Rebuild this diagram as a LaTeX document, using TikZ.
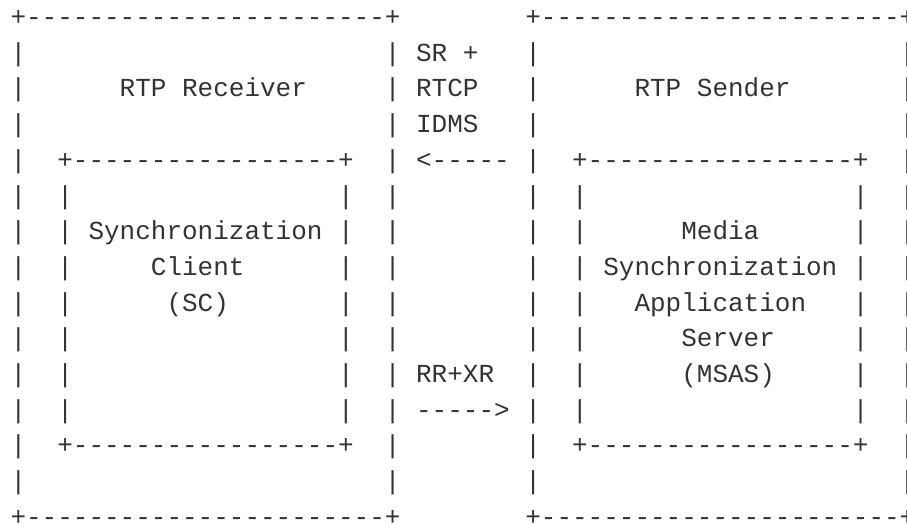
\documentclass[tikz,border=0pt]{standalone}
\usepackage{fontspec}
\newfontfamily\ascfont{Liberation Mono}
\definecolor{ink}{HTML}{333333}
\tikzset{asc/.style={anchor=base west, inner sep=0pt, outer sep=0pt,
  font=\ascfont\fontsize{26pt}{26pt}\selectfont, text=ink}}
\begin{document}
\begin{tikzpicture}[x=15.6pt, y=-35.7pt]
\useasboundingbox (0pt,0pt) rectangle (907pt,-524pt);
\begin{scope}[shift={(10.5pt,-25.5pt)}]
  % outer boxes: top and bottom borders
  \node[asc] (rxtop) at (0,0)  {+-----------------------+};
  \node[asc] (txtop) at (33,0) {+-----------------------+};
  \node[asc] (rxbot) at (0,14)  {+-----------------------+};
  \node[asc] (txbot) at (33,14) {+-----------------------+};
  % outer boxes: sides
  \foreach \r in {1,...,13} {
    \node[asc] (rxl\r) at (0,\r)  {|};
    \node[asc] (rxr\r) at (24,\r) {|};
    \node[asc] (txl\r) at (33,\r) {|};
    \node[asc] (txr\r) at (57,\r) {|};
  }
  % inner boxes: top and bottom borders
  \node[asc] (sctop) at (3,4)   {+-----------------+};
  \node[asc] (mstop) at (36,4)  {+-----------------+};
  \node[asc] (scbot) at (3,12)  {+-----------------+};
  \node[asc] (msbot) at (36,12) {+-----------------+};
  % inner boxes: sides
  \foreach \r in {5,...,11} {
    \node[asc] (scl\r) at (3,\r)  {|};
    \node[asc] (scr\r) at (21,\r) {|};
    \node[asc] (msl\r) at (36,\r) {|};
    \node[asc] (msr\r) at (54,\r) {|};
  }
  % labels
  \node[asc] (rxlabel) at (7,2)  {RTP Receiver};
  \node[asc] (txlabel) at (40,2) {RTP Sender};
  \node[asc] (sc1) at (5,6)  {Synchronization};
  \node[asc] (sc2) at (9,7)  {Client};
  \node[asc] (sc3) at (10,8) {(SC)};
  \node[asc] (ms1) at (43,6)  {Media};
  \node[asc] (ms2) at (38,7)  {Synchronization};
  \node[asc] (ms3) at (40,8)  {Application};
  \node[asc] (ms4) at (43,9)  {Server};
  \node[asc] (ms5) at (43,10) {(MSAS)};
  % messages between the boxes
  \node[asc] (m1) at (26,1)  {SR +};
  \node[asc] (m2) at (26,2)  {RTCP};
  \node[asc] (m3) at (26,3)  {IDMS};
  \node[asc] (a1) at (26,4)  {<-----};
  \node[asc] (m4) at (26,10) {RR+XR};
  \node[asc] (a2) at (26,11) {----->};
\end{scope}
\end{tikzpicture}
\end{document}
